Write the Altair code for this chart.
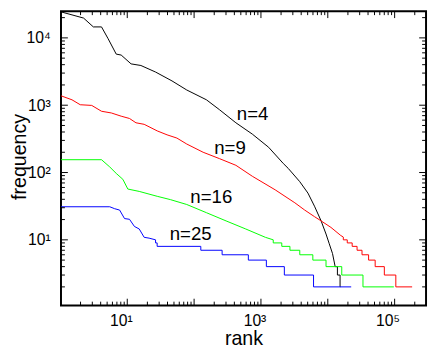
import altair as alt
import pandas as pd

# ---------------- data ----------------
series_names = ["n=4", "n=9", "n=16", "n=25"]
series_colors = ["#000000", "#ff0000", "#00ff00", "#0000ff"]

n4_rank = [1, 2.22, 3.11, 4.12, 5.17, 6.84, 8.11, 11.4, 16.0, 26.5, 46.7, 77.6, 153, 239, 422,
           743, 1303, 2163, 2564, 3810, 5045, 6325, 7945, 9410, 10520, 11770, 12890]
n4_freq = [24500, 19700, 14560, 14560, 9730, 5740, 5560, 4110, 3890, 3110, 2296, 1683, 1203, 859, 548,
           372, 237, 136, 115, 73.1, 49.5, 31.6, 19.1, 12.2, 8.74, 6.25, 4]
n4_tail_level = [4, 3, 2]
n4_tail_end = [13930, 15270, 15400]

n9_rank = [1, 1.49, 1.98, 2.94, 4.12, 5.78, 8.11, 10.8, 13.5, 17.9, 28.1, 39.4, 55.3, 77.6, 136.5,
           239, 422, 743, 1634, 2291, 3215, 4510, 6325, 7945, 11140, 15630]
n9_freq = [1390, 1203, 1016, 993, 813, 767, 687, 635, 548, 520, 415, 363, 325, 265, 200,
           161, 128, 88, 55.3, 44.3, 35.5, 27.7, 22.1, 19.1, 15.3, 11.6]
n9_tail_level = [11, 10, 9, 8, 7, 6, 5, 4, 3, 2]
n9_tail_end = [17070, 19550, 23170, 27420, 32500, 40770, 51150, 70120, 104200, 182700]

n16_rank = [1, 4.12, 5.47, 6.84, 8.59, 10.2, 15.1, 28.1, 44.1, 77.6, 153, 301, 592, 1165]
n16_freq = [155, 155, 121, 97, 79.3, 56.8, 52.4, 44.3, 39.6, 33.5, 25.3, 19.1, 14.5, 10.9]
n16_tail_level = [10, 9, 8, 7, 6, 5, 4, 3, 2]
n16_tail_end = [1527, 2050, 2716, 3810, 5975, 9410, 16180, 33600, 97300]

n25_rank = [1, 5.47, 6.48, 7.68, 9.1, 10.8, 12.8, 15.1, 17.9, 21.2]
n25_freq = [31, 31, 29, 27.7, 20.7, 20.2, 15.8, 14.5, 10.9, 10.6]
n25_tail_level = [10, 9, 8, 7, 6, 5, 4, 3, 2]
n25_tail_end = [26.5, 28, 126, 262.5, 648, 1205, 2239, 6120, 22390]

label_text = ["n=4", "n=9", "n=16", "n=25"]
label_rank = [750, 344, 181, 89]
label_freq = [735, 227, 43.8, 12.0]

x_major = [10, 100, 1000, 10000, 100000]
x_minor = [m * 10 ** k for k in range(0, 6) for m in range(2, 10) if m * 10 ** k < 2.9e5]
y_major = [10, 100, 1000, 10000]
y_minor = [m * 10 ** k for k in range(0, 5) for m in range(2, 10) if m * 10 ** k < 2.4e4]

# ---------------- build tables ----------------
rows = []
for name, rk, fq, tl, te in [
    ("n=4", n4_rank, n4_freq, n4_tail_level, n4_tail_end),
    ("n=9", n9_rank, n9_freq, n9_tail_level, n9_tail_end),
    ("n=16", n16_rank, n16_freq, n16_tail_level, n16_tail_end),
    ("n=25", n25_rank, n25_freq, n25_tail_level, n25_tail_end),
]:
    pts = list(zip(rk, fq))
    prev_end = None
    for lvl, end in zip(tl, te):
        if prev_end is not None:
            pts.append((prev_end, lvl))
        pts.append((end, lvl))
        prev_end = end
    for i, (r, f) in enumerate(pts):
        rows.append({"series": name, "rank": r, "freq": f, "idx": i})
df = pd.DataFrame(rows)
labels_df = pd.DataFrame({"text": label_text, "rank": label_rank, "freq": label_freq})
xmaj_df = pd.DataFrame({"rank": x_major})
xmin_df = pd.DataFrame({"rank": x_minor})
ymaj_df = pd.DataFrame({"freq": y_major})
ymin_df = pd.DataFrame({"freq": y_minor})

W, H = 372, 300
FONT = "Liberation Sans"
xs = alt.Scale(type="log", domain=[1.02, 2.95e5], nice=False)
ys = alt.Scale(type="log", domain=[1.055, 24920], nice=False)

x_label_expr = ("datum.value == 10 ? '10¹' : datum.value == 1000 ? '10³' : "
                "datum.value == 100000 ? '10⁵' : ''")
y_label_expr = ("datum.value == 10 ? '10¹' : datum.value == 100 ? '10²' : "
                "datum.value == 1000 ? '10³' : datum.value == 10000 ? '10⁴' : ''")

x_axis = alt.Axis(orient="bottom", values=x_major, ticks=False, tickSize=0, domain=False,
                  grid=False, labelExpr=x_label_expr, labelFont=FONT, labelFontSize=16,
                  labelColor="#000000", labelPadding=7, labelAlign="right", labelOffset=5,
                  title="rank", titleFont=FONT, titleFontSize=20,
                  titleFontWeight="normal", titleColor="#000000",
                  titleX=W / 2, titleY=40, titleBaseline="alphabetic")
y_axis = alt.Axis(orient="left", values=y_major, ticks=False, tickSize=0, domain=False,
                  grid=False, labelExpr=y_label_expr, labelFont=FONT, labelFontSize=16,
                  labelColor="#000000", labelPadding=11,
                  title="frequency", titleFont=FONT, titleFontSize=20,
                  titleFontWeight="normal", titleColor="#000000",
                  titleX=-36, titleY=148, titleAngle=-90, titleBaseline="alphabetic")

lines = alt.Chart(df).mark_line(strokeWidth=1, clip=True).encode(
    x=alt.X("rank:Q", scale=xs, axis=x_axis),
    y=alt.Y("freq:Q", scale=ys, axis=y_axis),
    color=alt.Color("series:N", scale=alt.Scale(domain=series_names, range=series_colors),
                    legend=None),
    order=alt.Order("idx:Q"),
)


def xticks(data, y0, y1):
    return alt.Chart(data).mark_rule(color="#000000", strokeWidth=1).encode(
        x=alt.X("rank:Q", scale=xs, axis=x_axis), y=alt.value(y0), y2=alt.value(y1))


def yticks(data, x0, x1):
    return alt.Chart(data).mark_rule(color="#000000", strokeWidth=1).encode(
        y=alt.Y("freq:Q", scale=ys, axis=y_axis), x=alt.value(x0), x2=alt.value(x1))


ticks = [
    xticks(xmaj_df, H, H - 7), xticks(xmin_df, H, H - 4),
    xticks(xmaj_df, 0, 7), xticks(xmin_df, 0, 4),
    yticks(ymaj_df, 0, 7), yticks(ymin_df, 0, 4),
    yticks(ymaj_df, W, W - 7), yticks(ymin_df, W, W - 4),
]

texts = alt.Chart(labels_df).mark_text(font=FONT, fontSize=19, color="#000000",
                                       align="center", baseline="middle").encode(
    x=alt.X("rank:Q", scale=xs, axis=x_axis),
    y=alt.Y("freq:Q", scale=ys, axis=y_axis),
    text="text:N",
)

chart = alt.layer(lines, *ticks, texts).properties(
    width=W, height=H,
    autosize=alt.AutoSizeParams(type="none"),
    padding={"left": 54, "top": 0, "right": 2, "bottom": 42},
    background="#ffffff",
).configure_view(stroke="#000000", strokeWidth=2)

chart.save("out.html", embed_options={"renderer": "svg", "actions": False})
